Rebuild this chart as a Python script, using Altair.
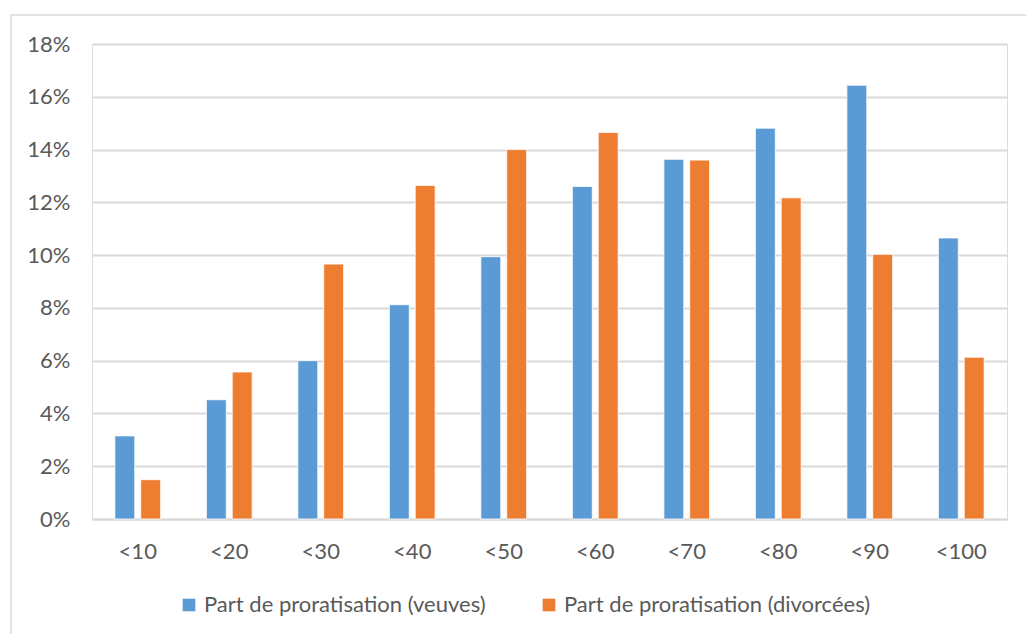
import altair as alt
import pandas as pd

categories = ["<10", "<20", "<30", "<40", "<50", "<60", "<70", "<80", "<90", "<100"]
veuves = [0.0315, 0.0452, 0.0600, 0.0812, 0.0994, 0.1260, 0.1363, 0.1481, 0.1644, 0.1065]
divorcees = [0.0149, 0.0557, 0.0966, 0.1264, 0.1400, 0.1465, 0.1360, 0.1217, 0.1003, 0.0613]
series = ["Part de proratisation (veuves)", "Part de proratisation (divorcées)"]
colors = ["#5B9BD5", "#ED7D31"]
y_ticks = [0, 0.02, 0.04, 0.06, 0.08, 0.10, 0.12, 0.14, 0.16, 0.18]

rows = []
for c, v, d in zip(categories, veuves, divorcees):
    rows.append({"cat": c, "serie": series[0], "val": v})
    rows.append({"cat": c, "serie": series[1], "val": d})
df = pd.DataFrame(rows)

FONT = "Lato"
GRAY = "#595959"
GRID = "#d9d9d9"

bars = alt.Chart(df).mark_bar(stroke="white", strokeWidth=0.8).encode(
    x=alt.X("cat:N", sort=categories, title=None,
            scale=alt.Scale(paddingInner=0.5, paddingOuter=0.25),
            axis=alt.Axis(labelAngle=0, ticks=False, domain=True, domainColor=GRID,
                          domainWidth=2, labelPadding=22, labelFontSize=22,
                          labelColor=GRAY, labelFont=FONT)),
    xOffset=alt.XOffset("serie:N", sort=series,
                        scale=alt.Scale(paddingInner=0.23, paddingOuter=0)),
    y=alt.Y("val:Q", title=None,
            scale=alt.Scale(domain=[0, 0.18], nice=False),
            axis=alt.Axis(format=".0%", values=y_ticks, ticks=False, domain=False,
                          grid=True, gridColor=GRID, gridWidth=2, labelPadding=22,
                          labelFontSize=22, labelColor=GRAY, labelFont=FONT)),
    color=alt.Color("serie:N", sort=series, title=None,
                    scale=alt.Scale(domain=series, range=colors),
                    legend=alt.Legend(orient="none", legendX=86, legendY=550,
                                      direction="horizontal", symbolType="square",
                                      symbolSize=160, symbolStrokeWidth=0,
                                      labelFontSize=22, labelFont=FONT,
                                      labelColor=GRAY, columnPadding=52,
                                      labelOffset=4, labelLimit=600)),
)

border = alt.Chart(pd.DataFrame({"a": [0]})).mark_rect(
    fill=None, stroke=GRID, strokeWidth=1.5
).encode(
    x=alt.value(-81), x2=alt.value(960), y=alt.value(-29), y2=alt.value(620)
)

chart = alt.layer(border, bars).properties(
    width=915, height=475,
    autosize=alt.AutoSizeParams(type="none"),
    padding={"left": 92, "top": 44, "right": 19, "bottom": 115},
).configure_view(stroke=None).configure(background="white")

chart.save("out.html", embed_options={"renderer": "svg", "actions": False})
